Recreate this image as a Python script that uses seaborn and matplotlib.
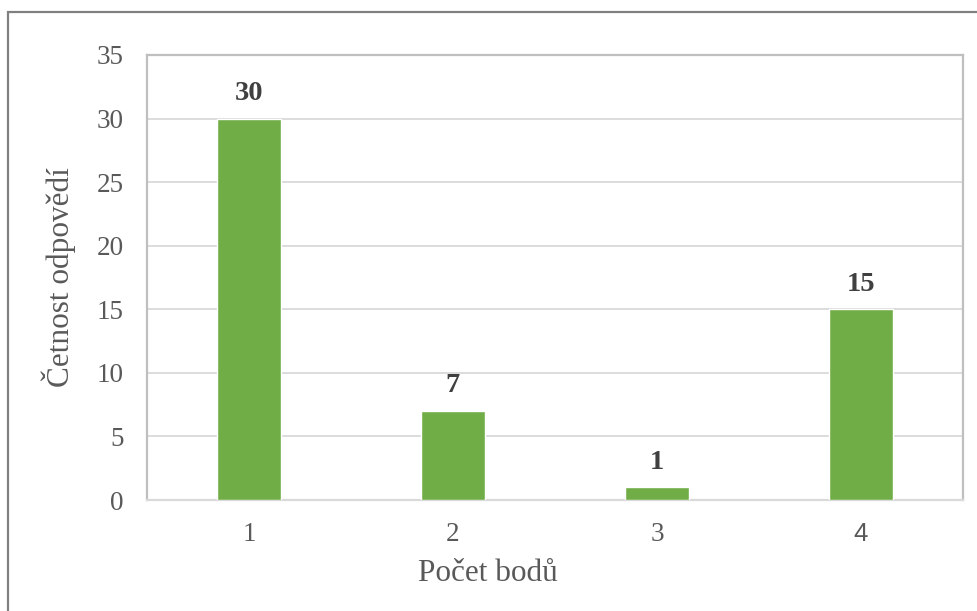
import matplotlib
matplotlib.use("Agg")
import matplotlib.pyplot as plt
import seaborn as sns
import pandas as pd
from matplotlib.patches import Rectangle

# Data
categories = ["1", "2", "3", "4"]
counts = [30, 7, 1, 15]
y_ticks = [0, 5, 10, 15, 20, 25, 30, 35]

sns.set_theme(style="white")
plt.rcParams["font.family"] = ["Liberation Serif", "DejaVu Serif"]

df = pd.DataFrame({"body": categories, "cetnost": counts})

fig = plt.figure(figsize=(9.78, 6.11), dpi=100)
ax = fig.add_axes([147 / 978, 1 - 500 / 611, 816 / 978, 445 / 611])

sns.barplot(data=df, x="body", y="cetnost", color="#70AD47", width=0.314,
            saturation=1, ax=ax, zorder=3)

ax.set_ylim(0, 35)
ax.set_xlim(-0.5, 3.5)
ax.set_yticks(y_ticks)
ax.yaxis.grid(True, color="#D9D9D9", linewidth=1.3, zorder=0)
ax.set_axisbelow(True)

for side in ["left", "top", "right"]:
    ax.spines[side].set_color("#BFBFBF")
    ax.spines[side].set_linewidth(1.6)
ax.spines["bottom"].set_color("#D9D9D9")
ax.spines["bottom"].set_linewidth(1.6)

ax.tick_params(axis="both", length=0, labelsize=19.5, labelcolor="#595959")
ax.tick_params(axis="y", pad=17)
ax.tick_params(axis="x", pad=16)
# last category label is set in a sans face
ax.get_xticklabels()[-1].set_fontfamily("Liberation Sans")
ax.get_xticklabels()[-1].set_fontsize(18.5)

# Value labels above bars
for container in ax.containers:
    ax.bar_label(container, labels=[str(v) for v in counts], padding=9,
                 fontsize=20.5, fontweight="bold", color="#404040")

ax.set_xlabel("Počet bodů", fontsize=22.5, color="#595959")
ax.xaxis.set_label_coords((488 - 147) / 816, -0.133)
ax.set_ylabel("Četnost odpovědí", fontsize=22.5, color="#595959")
ax.yaxis.set_label_coords((76 - 147) / 816, 0.5)

# Outer chart frame
fig.patches.append(Rectangle((8 / 978, -0.1), 1.2, 1 - 12 / 611 + 0.1,
                             transform=fig.transFigure, fill=False,
                             edgecolor="#808080", linewidth=1.6))

fig.savefig("out.png", dpi=100)
